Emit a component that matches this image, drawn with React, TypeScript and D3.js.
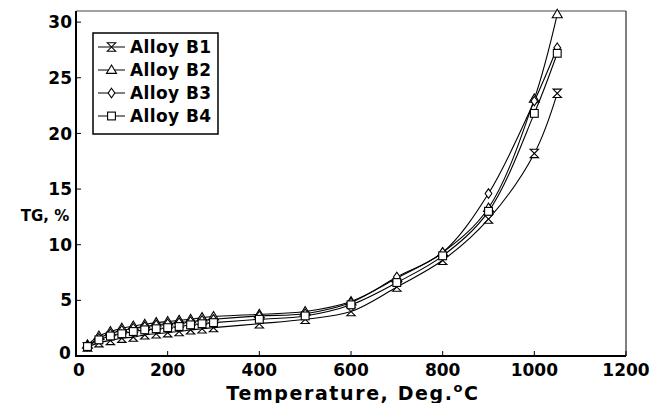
import React from "react";
import * as d3 from "d3";

const temps = [25, 50, 75, 100, 125, 150, 175, 200, 225, 250, 275, 300, 400, 500, 600, 700, 800, 900, 1000, 1050];
const alloyB1 = [0.8, 1.2, 1.4, 1.6, 1.7, 1.9, 2.0, 2.1, 2.2, 2.35, 2.45, 2.55, 2.9, 3.3, 4.0, 6.2, 8.6, 12.3, 18.2, 23.6];
const alloyB2 = [1.0, 1.8, 2.2, 2.5, 2.7, 2.85, 3.0, 3.1, 3.2, 3.3, 3.45, 3.55, 3.75, 4.0, 4.9, 7.0, 9.3, 13.3, 23.1, 30.7];
const alloyB3 = [0.9, 1.6, 2.0, 2.3, 2.5, 2.65, 2.8, 2.9, 3.0, 3.1, 3.2, 3.3, 3.6, 3.8, 4.8, 7.1, 9.3, 14.6, 22.9, 27.7];
const alloyB4 = [0.85, 1.45, 1.8, 2.0, 2.2, 2.35, 2.45, 2.55, 2.65, 2.8, 2.9, 3.0, 3.3, 3.6, 4.6, 6.6, 9.0, 13.0, 21.8, 27.2];
const seriesNames = ["Alloy B1", "Alloy B2", "Alloy B3", "Alloy B4"];
const seriesValues = [alloyB1, alloyB2, alloyB3, alloyB4];
const xTicks = [0, 200, 400, 600, 800, 1000, 1200];
const yTicks = [0, 5, 10, 15, 20, 25, 30];

const W = 649, H = 403;
const L = 76, R = 626, T = 11, B = 356;
const FONT = "'DejaVu Sans', Verdana, sans-serif";

function Marker({ kind, x, y }: { kind: number; x: number; y: number }) {
  const s = 4.2;
  const common = { fill: "white", stroke: "black", strokeWidth: 1.1 };
  if (kind === 0) {
    const d = `M${x - s},${y - s}L${x + s},${y - s}L${x - s},${y + s}L${x + s},${y + s}Z`;
    return <path d={d} {...common} />;
  }
  if (kind === 1) {
    const d = `M${x},${y - s - 0.8}L${x + s + 0.8},${y + s * 0.8}L${x - s - 0.8},${y + s * 0.8}Z`;
    return <path d={d} {...common} />;
  }
  if (kind === 2) {
    const d = `M${x},${y - s - 0.5}L${x + s * 0.8},${y}L${x},${y + s + 0.5}L${x - s * 0.8},${y}Z`;
    return <path d={d} {...common} />;
  }
  return <rect x={x - s + 0.3} y={y - s + 0.3} width={2 * s - 0.6} height={2 * s - 0.6} {...common} />;
}

export default function App() {
  const x = d3.scaleLinear().domain([0, 1200]).range([L, R]);
  const y = d3.scaleLinear().domain([0, 31]).range([B, T]);
  const line = d3
    .line<[number, number]>()
    .x((d) => x(d[0]))
    .y((d) => y(d[1]))
    .curve(d3.curveCatmullRom.alpha(0.5));

  const legendRows = [47, 70, 93, 116];

  return (
    <svg width={W} height={H} style={{ position: "absolute", left: 0, top: 0, background: "white" }}>
      <rect x={0} y={0} width={W} height={H} fill="white" />
      <line x1={L} y1={T} x2={R} y2={T} stroke="#444" strokeWidth={1} />
      <line x1={R} y1={T} x2={R} y2={B} stroke="black" strokeWidth={1} />
      <line x1={L} y1={T} x2={L} y2={B + 1} stroke="black" strokeWidth={2} />
      <line x1={L - 1} y1={B} x2={R} y2={B} stroke="black" strokeWidth={2} />

      {yTicks.map((t) => (
        <g key={"y" + t}>
          <line x1={L} x2={L + 5} y1={y(t)} y2={y(t)} stroke="black" strokeWidth={1} />
          {t !== 0 && (
            <text x={L - 4} y={y(t)} dy="0.36em" textAnchor="end" fontFamily={FONT} fontWeight="bold" fontSize={17}>
              {t}
            </text>
          )}
        </g>
      ))}
      <text x={L - 11} y={y(0) - 3} dy="0.36em" textAnchor="middle" fontFamily={FONT} fontWeight="bold" fontSize={17}>0</text>
      {xTicks.map((t) => (
        <g key={"x" + t}>
          <line x1={x(t)} x2={x(t)} y1={B} y2={B - 5} stroke="black" strokeWidth={1} />
          <text x={x(t) + (t === 0 ? 3 : 0)} y={B + 20} textAnchor="middle" fontFamily={FONT} fontWeight="bold" fontSize={17}>
            {t}
          </text>
        </g>
      ))}

      <text x={45} y={216} dy="0.36em" textAnchor="middle" fontFamily={FONT} fontWeight="bold" fontSize={15}>TG, %</text>
      <text x={353} y={400} textAnchor="middle" fontFamily={FONT} fontWeight="bold" fontSize={19} letterSpacing={1.6}>
        Temperature, Deg.
        <tspan dy={-8} fontSize={13}>o</tspan>
        <tspan dy={8}>C</tspan>
      </text>

      {seriesValues.map((vals, i) => {
        const pts: [number, number][] = temps.map((t, j) => [t, vals[j]]);
        return <path key={"s" + i} d={line(pts) || ""} fill="none" stroke="black" strokeWidth={1.1} />;
      })}
      {seriesValues.map((vals, i) => (
        <g key={"m" + i}>
          {temps.map((t, j) => (
            <Marker key={j} kind={i} x={x(t)} y={y(vals[j])} />
          ))}
        </g>
      ))}

      <rect x={93} y={33} width={125} height={101} fill="white" stroke="black" strokeWidth={1.5} />
      {seriesNames.map((name, i) => (
        <g key={"l" + i}>
          <line x1={98} x2={125} y1={legendRows[i]} y2={legendRows[i]} stroke="black" strokeWidth={1} />
          <Marker kind={i} x={111.5} y={legendRows[i]} />
          <text x={130} y={legendRows[i]} dy="0.36em" fontFamily={FONT} fontWeight="bold" fontSize={17} letterSpacing={0.4}>
            {name}
          </text>
        </g>
      ))}
    </svg>
  );
}
